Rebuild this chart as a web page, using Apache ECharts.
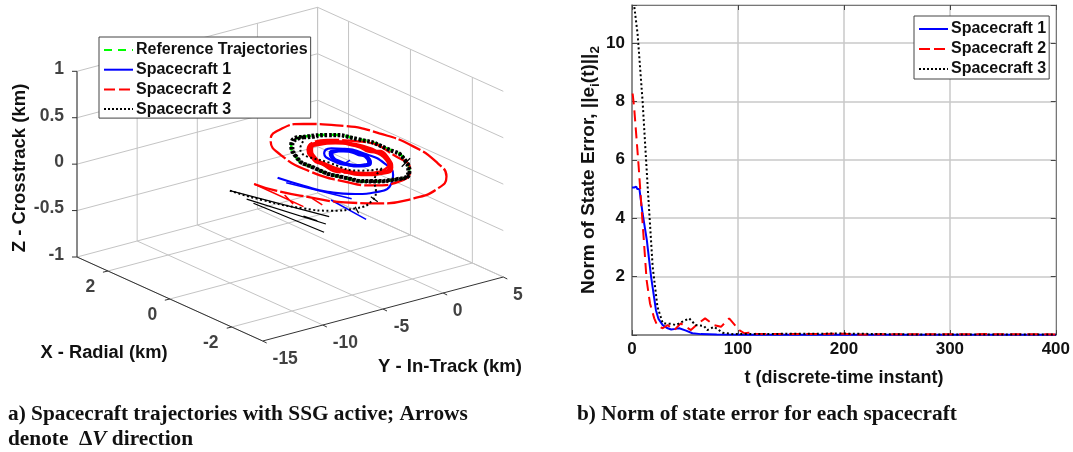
<!DOCTYPE html>
<html><head><meta charset="utf-8">
<style>html,body{margin:0;padding:0;background:#fff}#c{width:1073px;height:452px}</style>
<script src="https://cdn.jsdelivr.net/npm/echarts@6/dist/echarts.min.js"></script></head>
<body><div id="c"></div>
<script>
// ---- Panel a: trajectories, [X km, Y km] in the plane Z = 0 ----
const blueApproach=[[-.01,-6.07],[-.68,-5.63],[-1.24,-5.07],[-1.67,-3.89],[-1.85,-2.36],[-1.63,-.77],[-1.27,.29],[-.64,1.19],[0,1.28],[.48,.77],[.67,.13],[.53,-.81],[.15,-1.22],[-.28,-.89],[-.52,-.07],[-.40,.66],[0,.97]];
const blueRing1=[[0,1.04],[.26,.9],[.45,.52],[.52,0],[.45,-.52],[.26,-.9],[0,-1.04],[-.26,-.9],[-.45,-.52],[-.52,0],[-.45,.52],[-.26,.9],[0,1.04]];
const blueRing2=[[0,.94],[.24,.81],[.41,.47],[.47,0],[.41,-.47],[.24,-.81],[0,-.94],[-.24,-.81],[-.41,-.47],[-.47,0],[-.41,.47],[-.24,.81],[0,.94]];
const redApproach=[[-.01,-8.02],[-.57,-7.65],[-1.28,-6.63],[-1.92,-5.40],[-2.38,-3.71],[-2.57,-1.33],[-2.41,1.09],[-1.98,2.90],[-1.28,3.98],[-.24,4.65],[.77,4.39],[1.51,3.43],[2.10,1.50],[2.12,-.46],[1.77,-2.07],[.97,-3.27],[-.13,-3.65],[-.99,-3.01],[-1.49,-1.99],[-1.62,.25],[-1.25,1.77],[-.49,2.59],[.60,2.51],[1.09,.91],[.88,-1.29],[.12,-2.15],[-.59,-1.97],[-.95,-.60],[-.78,1.27]];
const redRing1=[[0,2.12],[.53,1.84],[.92,1.06],[1.06,0],[.92,-1.06],[.53,-1.84],[0,-2.12],[-.53,-1.84],[-.92,-1.06],[-1.06,0],[-.92,1.06],[-.53,1.84],[0,2.12]];
const redRing2=[[0,2],[.5,1.73],[.87,1],[1,0],[.87,-1],[.5,-1.73],[0,-2],[-.5,-1.73],[-.87,-1],[-1,0],[-.87,1],[-.5,1.73],[0,2]];
const blackApproach=[[-.02,-10.06],[-.83,-9.46],[-1.70,-8.26],[-2.13,-7.09],[-2.32,-5.55],[-2.15,-3.68],[-1.74,-2.35],[-1.34,-1.47],[-.85,.52],[-.70,-.84],[0,-1.61],[1.04,-1.49],[1.35,-.43]];
const blackRing1=[[1.52,0],[1.32,1.52],[.76,2.63],[0,3.04],[-.76,2.63],[-1.32,1.52],[-1.52,0],[-1.32,-1.52],[-.76,-2.63],[0,-3.04],[.76,-2.63],[1.32,-1.52],[1.52,0]];
const blackRing2=[[1.49,0],[1.29,1.49],[.75,2.58],[0,2.98],[-.75,2.58],[-1.29,1.49],[-1.49,0],[-1.29,-1.49],[-.75,-2.58],[0,-2.98],[.75,-2.58],[1.29,-1.49],[1.49,0]];
const blueArrows=[[[-.34,-6.20],[-1.84,-4.62]],[[-1.65,-5.85],[-2.94,-6.25]],[[-.17,-.89],[-.08,-.23]]];
const redArrows=[[[-.01,-8.02],[-1.62,-8.06]],[[-.87,-7.70],[-1.38,-8.30]],[[-1.35,-6.65],[-1.77,-6.88]]];
const blackArrows=[[[-.02,-10.06],[-2.38,-7.88]],[[-.60,-10.16],[-2.67,-8.90]],[[-.87,-10.29],[-3.02,-9.95]],[[-2.04,-9.14],[-2.42,-8.96]],[[-1.0,1.70],[-.72,3.12]],[[-2.24,-5.36],[-2.58,-5.95]],[[-1.98,-3.39],[-2.29,-3.61]]];
const xTicks=[-2,0,2], yTicks=[-15,-10,-5,0,5], zTicks=[-1,-.5,0,.5,1];
const xRange=[-3,3], yRange=[-15,5], zRange=[-1,1];

// ---- Panel b: norm of state error, [t, value] ----
const err1=[[0,5.05],[2,5.05],[3,5.0],[4,5.08],[5,5.0],[7,5.0],[10,4.16],[14,3.25],[18,2.0],[22.6,.85],[25,.55],[29,.34],[33,.24],[37,.19],[41,.21],[44.6,.23],[51,.15],[57,.06],[65,.03],[80,.02],[110,.01],[200,.01],[300,.01],[400,.01]];
const err2=[[0.6,8.27],[2,7.8],[4.4,6.67],[6.3,5.76],[8.5,4.6],[10.7,3.48],[13.8,1.88],[17,1.08],[21,.57],[24,.31],[29,.23],[33.6,.34],[40,.17],[46,.4],[50,.3],[55.6,.17],[63.4,.42],[69,.57],[77.5,.34],[84,.28],[91.7,.57],[101,.17],[106,.06],[110,.08],[117,.04],[135,.03],[200,.04],[210,.02],[335,.03],[400,.02]];
const err3=[[2.2,11.23],[5.3,10.3],[10,8.0],[14.8,5.07],[19.5,2.34],[24,.97],[29,.4],[37,.38],[41.4,.34],[47.7,.46],[54,.57],[60,.34],[68,.31],[71,.17],[77.5,.28],[85.4,.08],[95,.03],[198,.05],[260,.02],[400,.02]];
const legendA=['Reference Trajectories','Spacecraft 1','Spacecraft 2','Spacecraft 3'];
const legendB=['Spacecraft 1','Spacecraft 2','Spacecraft 3'];

// camera of the 3-D box, px per km on a hidden plane
const cam={x0:350.3,xX:-30.95,xY:12.03,y0:158.15,yX:-14,yY:-3.2,yZ:-92.85};
const proj=(X,Y,Z=0)=>[cam.x0+cam.xX*X+cam.xY*Y, cam.y0+cam.yX*X+cam.yY*Y+cam.yZ*Z];
const path=(...lists)=>[].concat(...lists).map(p=>proj(p[0],p[1],0));
const segs=list=>{const o=[];list.forEach(s=>{s.forEach(p=>o.push(proj(p[0],p[1],p[2]||0)));o.push([null,null]);});return o;};

const [xa,xb]=xRange,[ya,yb]=yRange,[za,zb]=zRange;
const gridSegs=[];
xTicks.forEach(X=>gridSegs.push([[X,ya,za],[X,yb,za]]));
yTicks.forEach(Y=>gridSegs.push([[xa,Y,za],[xb,Y,za]]));
yTicks.forEach(Y=>gridSegs.push([[xb,Y,za],[xb,Y,zb]]));
zTicks.forEach(Z=>gridSegs.push([[xb,ya,Z],[xb,yb,Z]]));
xTicks.forEach(X=>gridSegs.push([[X,yb,za],[X,yb,zb]]));
zTicks.forEach(Z=>gridSegs.push([[xa,yb,Z],[xb,yb,Z]]));
gridSegs.push([[xb,yb,za],[xb,yb,zb]]);
const axisSegs=[[[xb,ya,za],[xb,ya,zb]],[[xb,ya,za],[xa,ya,za]],[[xa,ya,za],[xa,yb,za]]];
const tickSegs=[];
const FONT='"Liberation Sans",Arial,sans-serif', SERIF='"Liberation Serif","Times New Roman",serif';
const tickLabel=(pos,txt,dx,dy,align)=>({value:pos,name:txt,label:{show:true,formatter:txt,position:'inside',offset:[dx,dy],align:align||'center',verticalAlign:'middle',fontFamily:FONT,fontWeight:'bold',fontSize:17.5,color:'#111'}});
const labelData=[];
zTicks.forEach(Z=>labelData.push(tickLabel(proj(xb,ya,Z),String(Z),-13,-2,'right')));
xTicks.forEach(X=>labelData.push(tickLabel(proj(X,ya,za),String(X),-17.5-3.5*(String(X).length-1),16)));
yTicks.forEach(Y=>labelData.push(tickLabel(proj(xa,Y,za),String(Y),14.5+4*(String(Y).length-1),18)));
zTicks.forEach(Z=>{const p=proj(xb,ya,Z);tickSegs.push([p,[p[0]-5,p[1]]]);});
xTicks.forEach(X=>{const p=proj(X,ya,za);tickSegs.push([p,[p[0]-5,p[1]+1.2]]);});
yTicks.forEach(Y=>{const p=proj(xa,Y,za);tickSegs.push([p,[p[0]+4,p[1]+2]]);});
const tickData=[];tickSegs.forEach(s=>{tickData.push(s[0],s[1],[null,null]);});

const GREEN='#00ff00',BLUE='#0000ff',RED='#ff0000',BLACK='#000000';
const L=(name,data,color,width,type,smooth,z)=>({type:'line',name,data,xAxisIndex:0,yAxisIndex:0,showSymbol:false,symbol:'none',silent:true,animation:false,clip:false,smooth:smooth||false,lineStyle:{color,width,type:type||'solid'},itemStyle:{color},z:z||3,connectNulls:false});
const R=(name,data,color,width,type)=>({type:'line',name,data,xAxisIndex:1,yAxisIndex:1,showSymbol:false,symbol:'none',silent:true,animation:false,lineStyle:{color,width,type},itemStyle:{color},z:3});

const series=[
 L('grid3d',segs(gridSegs),'#c4c4c4',1,'solid',false,1),
 L('axes3d',segs(axisSegs),'#333333',1,'solid',false,2),
 L('ticks3d',tickData,'#333333',1,'solid',false,2),
 {type:'scatter',name:'ticklabels',xAxisIndex:0,yAxisIndex:0,symbolSize:1,itemStyle:{color:'rgba(0,0,0,0)'},silent:true,animation:false,clip:false,data:labelData,z:2},
 L('Reference Trajectories',path(blackRing1),GREEN,2.5,[8,6],0.65,3),
 L('Reference Trajectories',path(redRing1),GREEN,2,[8,6],0.65,3),
 L('Reference Trajectories',path(blueRing1),GREEN,2,[8,6],0.65,3),
 L('Spacecraft 1',path(blueApproach),BLUE,2.2,'solid',0.55,4),
 L('Spacecraft 1',path(blueRing1,blueRing2),BLUE,3,'solid',0.65,4),
 L('Spacecraft 1',segs(blueArrows),BLUE,1.5,'solid',false,4),
 L('Spacecraft 2',path(redApproach),RED,2.3,[24,3],0.55,5),
 L('Spacecraft 2',path(redRing1,redRing2),RED,3.6,'solid',0.65,5),
 L('Spacecraft 2',segs(redArrows),RED,1.6,'solid',false,5),
 L('Spacecraft 3',path(blackApproach),BLACK,2,[2,2.5],0.55,6),
 L('Spacecraft 3',path(blackRing1,blackRing2),BLACK,3.8,[2.5,1.8],0.65,6),
 L('Spacecraft 3',segs(blackArrows),BLACK,1.2,'solid',false,6),
 R('Spacecraft 1',err1,BLUE,2,'solid'),
 R('Spacecraft 2',err2,RED,2,[11,6]),
 R('Spacecraft 3',err3,BLACK,2,[2,2.5])
];
const legendStyle={orient:'vertical',selectedMode:false,backgroundColor:'#fff',borderColor:'#444',borderWidth:1,itemWidth:29,itemHeight:14,itemStyle:{opacity:0,color:'rgba(0,0,0,0)',borderWidth:0},textStyle:{fontFamily:FONT,fontWeight:'bold',fontSize:16,color:'#111',padding:[0,0,0,-2]},z:20};
const legendItem=name=>{
  if(name==='Spacecraft 2') return {name,lineStyle:{width:2,type:[11,4]}};
  if(name==='Spacecraft 1') return {name,lineStyle:{width:2}};
  if(name==='Spacecraft 3') return {name,lineStyle:{width:2,type:[2,2]}};
  return {name,lineStyle:{width:2}};
};
const axisName={fontFamily:FONT,fontWeight:'bold',fontSize:18,color:'#111'};
const tickCol='#444';
const option={
 backgroundColor:'#fff',animation:false,
 grid:[{left:0,top:0,width:540,height:400,show:false},{left:632,top:5,width:426,height:330,show:false}],
 xAxis:[
  {gridIndex:0,type:'value',min:0,max:540,show:false},
  {gridIndex:1,type:'value',min:0,max:400,interval:100,position:'bottom',name:'t (discrete-time instant)',nameLocation:'middle',nameGap:34,nameTextStyle:axisName,
   axisLine:{show:true,lineStyle:{color:'#777',width:1.5}},axisTick:{inside:true,length:5,lineStyle:{color:tickCol}},
   axisLabel:{fontFamily:FONT,fontWeight:'bold',fontSize:17,color:'#111',margin:6,hideOverlap:false},
   splitLine:{show:true,lineStyle:{color:'#c8c8c8',width:1.5}}},
  {gridIndex:1,type:'value',min:0,max:400,interval:100,position:'top',axisLine:{show:true,onZero:false,lineStyle:{color:'#777',width:1}},axisTick:{inside:true,length:5,lineStyle:{color:tickCol}},axisLabel:{show:false},splitLine:{show:false}}
 ],
 yAxis:[
  {gridIndex:0,type:'value',min:0,max:400,inverse:true,show:false},
  {gridIndex:1,type:'value',min:0,max:11.3,interval:2,position:'left',name:'{n|Norm of State Error, ||e}{s|i}{n|(t)||}{s|2}',nameLocation:'middle',nameRotate:90,nameGap:25,
   nameTextStyle:{...axisName,rich:{n:{fontFamily:FONT,fontWeight:'bold',fontSize:19,color:'#111'},s:{fontFamily:FONT,fontWeight:'bold',fontSize:13.5,color:'#111',verticalAlign:'bottom',lineHeight:26,padding:[9,0,0,0]}}},
   axisLine:{show:true,onZero:false,lineStyle:{color:'#777',width:1.5}},axisTick:{inside:true,length:5,lineStyle:{color:tickCol}},
   axisLabel:{fontFamily:FONT,fontWeight:'bold',fontSize:17,color:'#111',margin:7,formatter:v=>(v===0||v%2!==0)?'':String(v)},
   splitLine:{show:true,lineStyle:{color:'#c8c8c8',width:1.5}}},
  {gridIndex:1,type:'value',min:0,max:11.3,interval:2,position:'right',axisLine:{show:true,onZero:false,lineStyle:{color:'#777',width:1}},axisTick:{inside:true,length:5,lineStyle:{color:tickCol}},axisLabel:{show:false},splitLine:{show:false}}
 ],
 legend:[
  {...legendStyle,data:legendA.map(legendItem),left:99,top:37,padding:[5,3,1,4],itemGap:3.7},
  {...legendStyle,data:legendB.map(legendItem),left:914,top:16,padding:[5,3,2,4],itemGap:4}
 ],
 title:[
  {text:'a) Spacecraft trajectories with SSG active; Arrows',left:8,top:404,padding:0,textStyle:{fontFamily:SERIF,fontWeight:'bold',fontSize:21.3,color:'#111'}},
  {text:'{b|denote  Δ}{i|V}{b| direction}',left:8,top:429,padding:0,textStyle:{rich:{b:{fontFamily:SERIF,fontWeight:'bold',fontSize:21.3,color:'#111'},i:{fontFamily:SERIF,fontWeight:'bold',fontStyle:'italic',fontSize:21.3,color:'#111'}}}},
  {text:'b) Norm of state error for each spacecraft',left:577,top:404,padding:0,textStyle:{fontFamily:SERIF,fontWeight:'bold',fontSize:21.3,color:'#111'}}
 ],
 graphic:[
  {type:'text',x:104,y:353,style:{text:'X - Radial (km)',font:'bold 18.3px '+FONT,fill:'#111',textAlign:'center',textVerticalAlign:'middle'}},
  {type:'text',x:450,y:367,style:{text:'Y - In-Track (km)',font:'bold 18.5px '+FONT,fill:'#111',textAlign:'center',textVerticalAlign:'middle'}},
  {type:'text',x:20,y:168,rotation:Math.PI/2,style:{text:'Z - Crosstrack (km)',font:'bold 18.5px '+FONT,fill:'#111',textAlign:'center',textVerticalAlign:'middle'}}
 ],
 series
};
const chart=echarts.init(document.getElementById('c'),null,{renderer:'canvas'});
chart.setOption(option);
</script></body></html>
